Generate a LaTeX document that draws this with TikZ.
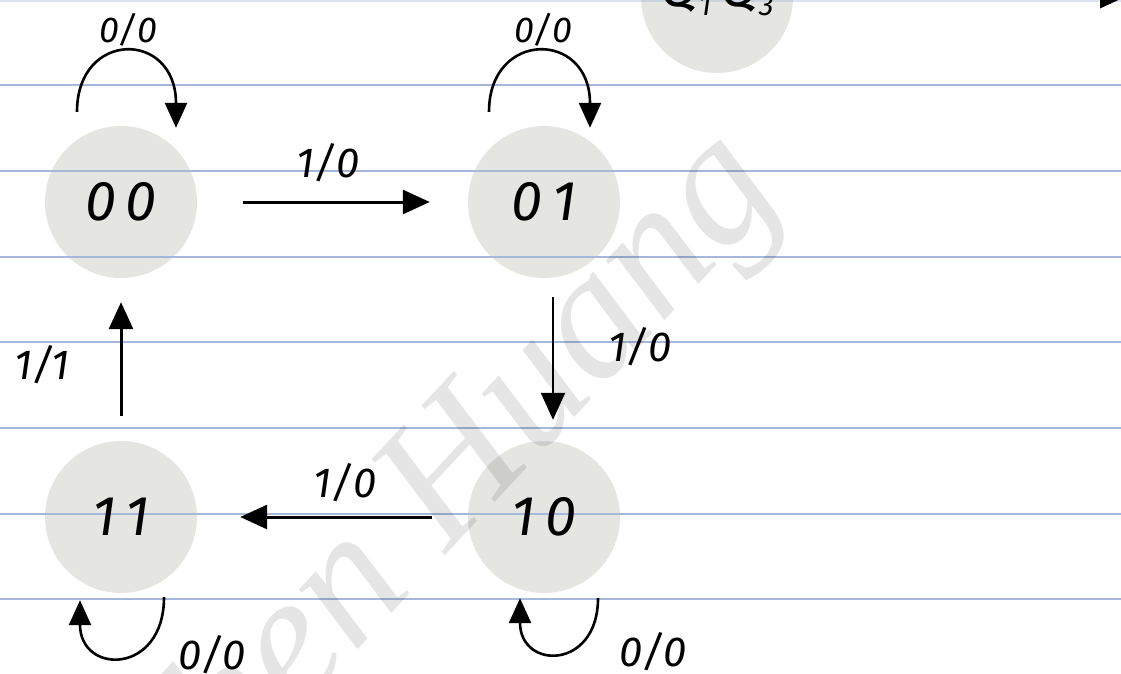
\documentclass[tikz,border=0pt]{standalone}
\usepackage{fontspec}
\setmainfont{Liberation Serif}
\newfontfamily\hand{Fira Sans}
\usetikzlibrary{arrows.meta}

\definecolor{rulecol}{RGB}{165,184,218}
\definecolor{stategray}{RGB}{229,229,225}

\begin{document}
\begin{tikzpicture}[x=1pt,y=-1pt,
  stnode/.style={circle,fill=stategray,minimum size=152pt,inner sep=0pt},
  tag/.style={font=\hand\itshape\fontsize{56}{56}\selectfont},
  lbl/.style={font=\hand\itshape\fontsize{42}{42}\selectfont},
  lblsm/.style={font=\hand\itshape\fontsize{36}{36}\selectfont},
  ruled/.style={draw=rulecol,line width=1.6pt},
  arr/.style={line width=3pt,-{Triangle[length=27pt,width=24pt]}},
  selfarc/.style={line width=2.6pt,-{Triangle[length=25pt,width=22pt]}}]
\fill[white] (0,0) rectangle (1121,673);
\useasboundingbox (0,0) rectangle (1121,673);

% states
\node[stnode] (s00) at (121,202) {};
\node[stnode] (s01) at (544,202) {};
\node[stnode] (s10) at (544,517) {};
\node[stnode] (s11) at (121,517) {};
\node[stnode] (key) at (717,-3) {};

% ruled paper
\draw[ruled,draw opacity=0.4] (0,1) -- (1121,1);
\foreach \yy in {85,171,257,342,428,514,599} \draw[ruled] (0,\yy) -- (1121,\yy);

% codes
\node[tag] (t00) at (s00) {0\,0};
\node[tag] (t01) at (s01) {0\,1};
\node[tag] (t10) at (s10) {1\,0};
\node[tag] (t11) at (s11) {1\,1};
\node[tag,anchor=base] (tkey) at (717,6) {Q\raisebox{-9pt}{\fontsize{30}{30}\selectfont 1}\,Q\raisebox{-9pt}{\fontsize{30}{30}\selectfont 3}};

% transitions
\draw[arr,shorten <=46pt,shorten >=38pt] (s00) -- (s01);
\draw[arr,line width=2.2pt,shorten <=19pt,shorten >=21pt] ([xshift=9pt]s01.south) -- ([xshift=9pt]s10.north);
\draw[arr,shorten <=36pt,shorten >=43pt] (s10) -- (s11);
\draw[arr,shorten <=25pt,shorten >=24pt] (s11.north) -- (s00.south);
\coordinate (offR) at (1127,-4);
\draw[arr] (key.east) -- (offR);

% self loops
\draw[selfarc] ([shift={(-44,-14)}]s00.north) .. controls +(0,-82) and +(0,-98) .. ([shift={(55,2)}]s00.north);
\draw[selfarc] ([shift={(-55,-14)}]s01.north) .. controls +(0,-82) and +(0,-98) .. ([shift={(46,2)}]s01.north);
\draw[selfarc] ([shift={(43,4)}]s11.south) .. controls +(0,78) and +(0,75) .. ([shift={(-41,7)}]s11.south);
\draw[selfarc] ([shift={(54,5)}]s10.south) .. controls +(0,72) and +(0,72) .. ([shift={(-24,5)}]s10.south);

% labels
\node[lblsm] (l1) at (128,30) {0/0};
\node[lblsm] (l2) at (543,30) {0/0};
\node[lbl] (l3) at (328,163) {1/0};
\node[lbl] (l4) at (640,347) {1/0};
\node[lbl] (l5) at (345,483) {1/0};
\node[lbl] (l6) at (42,365) {1/1};
\node[lbl] (l7) at (212,655) {0/0};
\node[lbl] (l8) at (653,652) {0/0};

% watermark
\node[rotate=47,anchor=base west,inner sep=0pt,text=black,text opacity=0.1,
  font=\itshape\fontsize{182}{182}\selectfont] (wm) at (236,780) {hen Huang};
\end{tikzpicture}
\end{document}
